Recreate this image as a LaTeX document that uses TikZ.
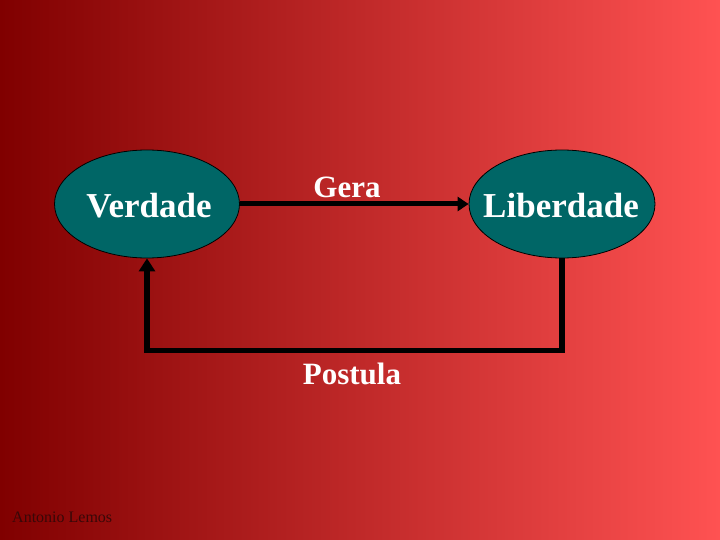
\documentclass[tikz,border=0pt]{standalone}
\usepackage{fontspec}
\setmainfont{Liberation Serif}
\usetikzlibrary{arrows.meta,shapes.geometric}
\definecolor{bgleft}{RGB}{128,0,0}
\definecolor{bgmid}{RGB}{200,55,55}
\definecolor{bgright}{RGB}{255,82,82}
\definecolor{teal1}{RGB}{0,102,102}
\definecolor{sig}{RGB}{55,8,8}
\tikzset{
  concept/.style={ellipse, draw=black, line width=0.8pt, fill=teal1, inner sep=0pt},
  bigtxt/.style={text=white, font=\fontsize{35}{40}\selectfont\bfseries},
  lbltxt/.style={text=white, font=\fontsize{31}{36}\selectfont\bfseries},
  link/.style={draw=black, line width=5pt},
}
\begin{document}
\begin{tikzpicture}[x=1pt,y=-1pt]
\shade[left color=bgleft, middle color=bgmid, right color=bgright] (0,0) rectangle (720,540);
\useasboundingbox (0,0) rectangle (720,540);
\node[concept, minimum width=185pt, minimum height=108pt] (v) at (147,204) {};
\node[concept, minimum width=186pt, minimum height=108pt] (l) at (562,204) {};
\node[bigtxt, anchor=base] (vt) at (149,218) {Verdade};
\node[bigtxt, anchor=base] (lt) at (561,218) {Liberdade};
\draw[link, -{Triangle[length=11pt,width=14pt]}] (v.east) -- (l.west);
\node[lbltxt, anchor=base] (gera) at (347,197) {Gera};
\draw[link, line width=5.5pt, -{Triangle[length=13pt,width=16pt]}] (l.south) -- ++(0,92) -| (v.south);
\node[lbltxt, anchor=base] (post) at (352,384) {Postula};
\node[text=sig, anchor=base west, inner sep=0pt, font=\fontsize{16}{18}\selectfont] (sign) at (12,522) {Antonio Lemos};
\end{tikzpicture}
\end{document}
